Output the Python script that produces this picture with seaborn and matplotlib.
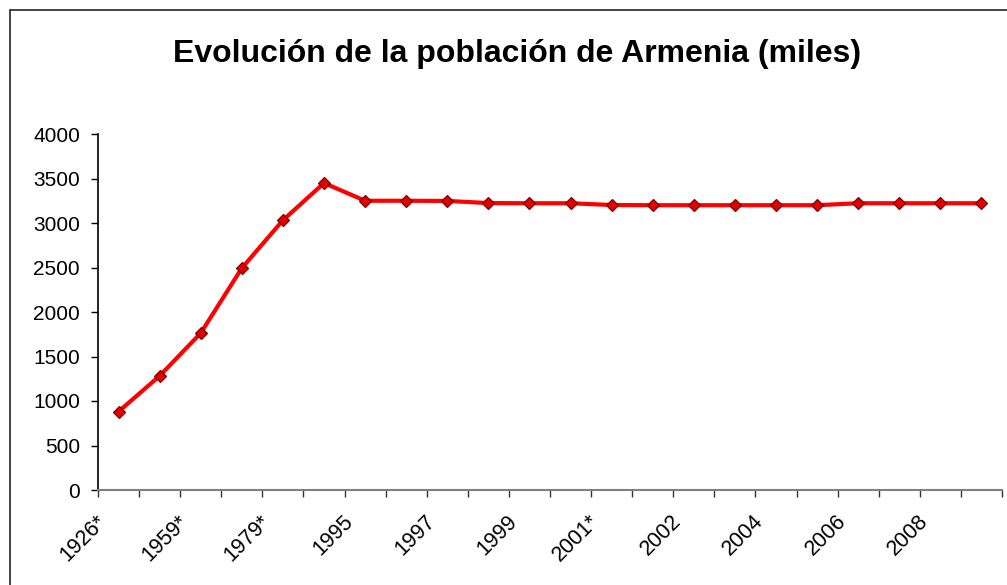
import numpy as np
import pandas as pd
import matplotlib
matplotlib.use("Agg")
import matplotlib.pyplot as plt
import matplotlib.transforms as mtransforms
from matplotlib.patches import Rectangle
import seaborn as sns

categories = ["1926*", "1939*", "1959*", "1970*", "1979*", "1989*", "1995", "1996",
              "1997", "1998", "1999", "2000", "2001*", "2001", "2002", "2003",
              "2004", "2005", "2006", "2007", "2008", "2009"]
poblacion = [881, 1282, 1763, 2493, 3031, 3449, 3250, 3250,
             3248, 3224, 3222, 3222, 3202, 3200, 3200, 3200,
             3200, 3200, 3222, 3222, 3222, 3222]
y_ticks = [0, 500, 1000, 1500, 2000, 2500, 3000, 3500, 4000]
title = "Evolución de la población de Armenia (miles)"

sns.set_theme(style="white")
plt.rcParams["font.family"] = ["Liberation Sans", "DejaVu Sans"]

W, H = 1007, 585
fig = plt.figure(figsize=(W / 100, H / 100), dpi=100)
fig.patch.set_facecolor("white")
ax = fig.add_axes([98 / W, 1 - 490 / H, (1002 - 98) / W, (490 - 134) / H])

df = pd.DataFrame({"idx": np.arange(len(categories)), "pob": poblacion})
sns.lineplot(data=df, x="idx", y="pob", ax=ax, color="#ff0000", linewidth=3.0,
             marker="D", markersize=6, markerfacecolor="#e00000",
             markeredgecolor="#800000", markeredgewidth=0.9)

ax.set_xlim(-0.5, len(categories) - 0.5)
ax.set_ylim(0, 4000)
ax.set_yticks(y_ticks)
ax.set_yticklabels([str(v) for v in y_ticks], fontsize=15, color="black")
ax.tick_params(axis="y", direction="out", length=5, width=1, color="black", pad=8, left=True)

# category boundaries as major ticks, labels on every other category center
ax.set_xticks(np.arange(-0.5, len(categories), 1))
ax.set_xticklabels([])
ax.tick_params(axis="x", which="major", direction="out", length=5, width=1, color="#333333", bottom=True)
label_pos = np.arange(0, len(categories), 2)
ax.set_xticks(label_pos, minor=True)
ax.set_xticklabels([categories[i] for i in label_pos], minor=True, rotation=45,
                   ha="right", va="top", fontsize=15.5, color="black")
ax.tick_params(axis="x", which="minor", length=0, pad=0, bottom=True)
offset = mtransforms.ScaledTranslation(-8 / 100, -21 / 100, fig.dpi_scale_trans)
for lab in ax.get_xticklabels(minor=True):
    lab.set_transform(lab.get_transform() + offset)

ax.set_xlabel("")
ax.set_ylabel("")
for s in ["top", "right"]:
    ax.spines[s].set_visible(False)
ax.spines["left"].set_color("black")
ax.spines["left"].set_linewidth(1.2)
ax.spines["bottom"].set_color("#808080")
ax.spines["bottom"].set_linewidth(1.5)

fig.text(517 / W, 1 - 54 / H, title, ha="center", va="center",
         fontsize=23, fontweight="bold", color="black")

frame = Rectangle((10 / W, -0.05), 1.2, 1 - 10 / H + 0.05, transform=fig.transFigure,
                  fill=False, edgecolor="#222222", linewidth=1.2)
fig.patches.append(frame)

fig.savefig("out.png", dpi=100, facecolor="white")
